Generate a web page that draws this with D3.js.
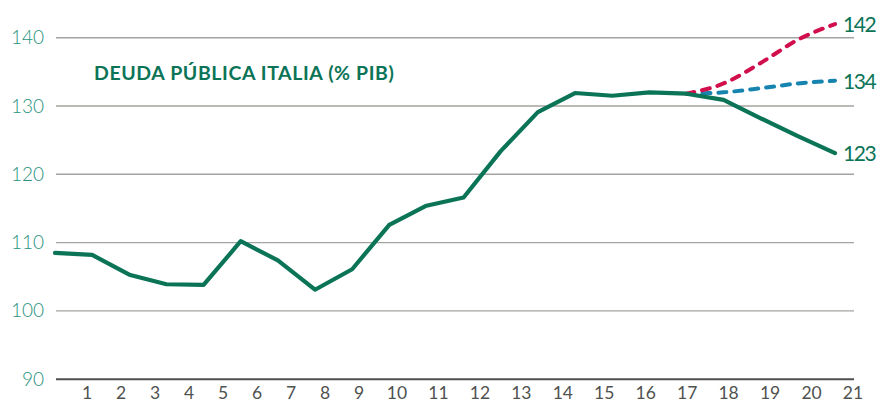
<!DOCTYPE html>
<html><head><meta charset="utf-8">
<script src="https://cdn.jsdelivr.net/npm/d3@7"></script>
<style>html,body{margin:0;padding:0;background:#fff;}svg{display:block;}</style>
</head><body>
<svg id="c" width="877" height="403"></svg>
<script>
const title = "DEUDA PÚBLICA ITALIA (% PIB)";
const yTicks = [90, 100, 110, 120, 130, 140];
const xLabels = [1,2,3,4,5,6,7,8,9,10,11,12,13,14,15,16,17,18,19,20,21];
const deuda = [108.5,108.2,105.3,103.9,103.8,110.2,107.4,103.1,106.1,112.6,115.4,116.6,123.4,129.1,131.9,131.5,132.0,131.8,130.9,128.2,125.6,123.1];
const escAlto = [null,null,null,null,null,null,null,null,null,null,null,null,null,null,null,null,null,131.8,133.3,136.3,139.7,142.0];
const escMedio = [null,null,null,null,null,null,null,null,null,null,null,null,null,null,null,null,null,131.8,132.0,132.6,133.3,133.7];
const endLabels = ["142","134","123"];

const svg = d3.select("#c");
const green = "#0b7457", red = "#d20f4d", blue = "#1784b0";
const y = d3.scaleLinear().domain([90,140]).range([379.2,37.7]);
const x = d3.scaleLinear().domain([0, deuda.length-1]).range([55,835]);
const xl = d3.scaleLinear().domain([1,9,10,21]).range([87,359,397,853]);

svg.selectAll("line.g").data(yTicks).join("line")
  .attr("x1",56).attr("x2",854)
  .attr("y1",d=>y(d)).attr("y2",d=>y(d))
  .attr("stroke",d=>d===90?"#4d514d":"#a3a39f")
  .attr("stroke-width",d=>d===90?2:1.4);

svg.selectAll("text.yt").data(yTicks).join("text")
  .attr("x",44).attr("y",d=>y(d)+6.5)
  .attr("text-anchor","end")
  .attr("font-family","Lato, 'Open Sans', sans-serif").attr("font-weight",300)
  .attr("font-size",19).attr("fill","#2a937e").text(d=>d);

svg.selectAll("text.xt").data(xLabels).join("text")
  .attr("x",d=>xl(d)).attr("y",399)
  .attr("text-anchor","middle")
  .attr("font-family","Lato, 'Open Sans', sans-serif").attr("font-weight",400)
  .attr("font-size",17.5).attr("fill","#50524f").text(d=>d);

svg.append("text").attr("x",94).attr("y",80)
  .attr("font-family","Lato, 'Open Sans', sans-serif").attr("font-weight",700)
  .attr("font-size",19.5).attr("letter-spacing",0.6).attr("fill",green).text(title);

const mk = (data, curve) => d3.line().defined(d=>d!=null).x((d,i)=>x(i)).y(d=>y(d)).curve(curve)(data);

svg.append("path").attr("d",mk(escMedio,d3.curveMonotoneX))
  .attr("fill","none").attr("stroke",blue).attr("stroke-width",4)
  .attr("stroke-dasharray","8,8").attr("stroke-linecap","round");
svg.append("path").attr("d",mk(escAlto,d3.curveMonotoneX))
  .attr("fill","none").attr("stroke",red).attr("stroke-width",4)
  .attr("stroke-dasharray","8,8").attr("stroke-linecap","round");
svg.append("path").attr("d",mk(deuda,d3.curveLinear))
  .attr("fill","none").attr("stroke",green).attr("stroke-width",4.2)
  .attr("stroke-linejoin","round").attr("stroke-linecap","round");

const ends = [escAlto[escAlto.length-1], escMedio[escMedio.length-1], deuda[deuda.length-1]];
svg.selectAll("text.el").data(endLabels).join("text")
  .attr("x",843).attr("y",(d,i)=>y(ends[i])+8)
  .attr("font-family","Lato, 'Open Sans', sans-serif").attr("font-weight",400)
  .attr("font-size",21).attr("letter-spacing",-1.4).attr("fill",green).text(d=>d);
</script>
</body></html>
